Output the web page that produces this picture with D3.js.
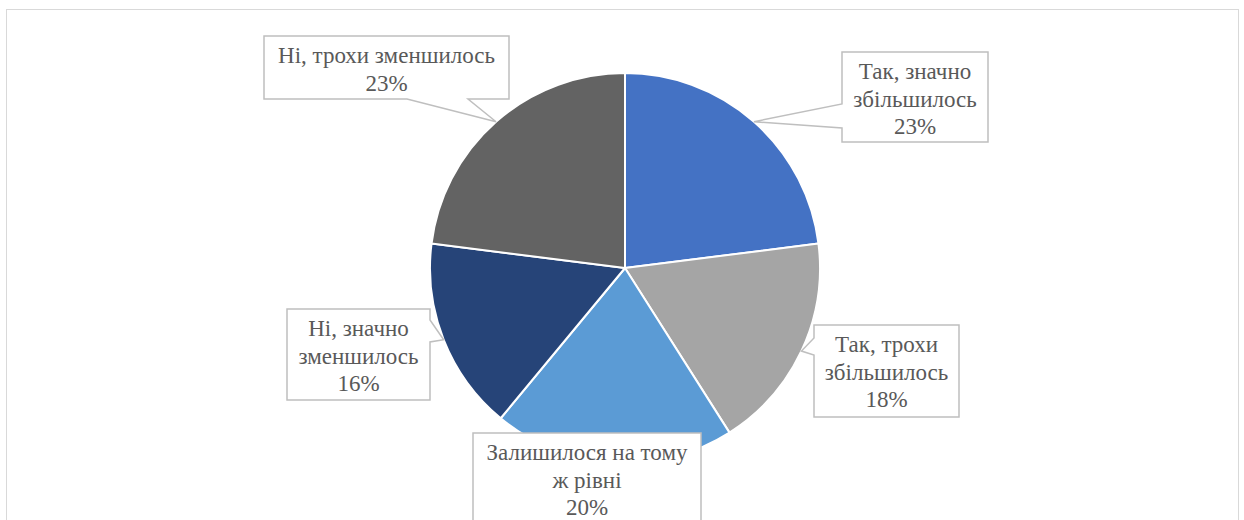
<!DOCTYPE html>
<html>
<head>
<meta charset="utf-8">
<script src="https://cdn.jsdelivr.net/npm/d3@7"></script>
<style>
  html, body { margin: 0; padding: 0; background: #fff; }
  svg { display: block; }
</style>
</head>
<body>
<svg id="chart" width="1244" height="520"></svg>
<script>
// Survey answers, clockwise from 12 o'clock
const categories = [
  ["Так, значно", "збільшилось"],
  ["Так, трохи", "збільшилось"],
  ["Залишилося на тому", "ж рівні"],
  ["Ні, значно", "зменшилось"],
  ["Ні, трохи зменшилось"]
];
const values = [23, 18, 20, 16, 23];
const colors = ["#4472C4", "#A5A5A5", "#5B9BD5", "#264478", "#636363"];

// Callout boxes, placed relative to the pie centre.
// side: edge of the box that carries the pointer; base: pointer base along that edge.
const callouts = [
  { dx: 217,  dy: -216, w: 146, h: 90, side: "left",   base: [52, 76] },
  { dx: 189,  dy: 57,   w: 145, h: 92, side: "left",   base: [13, 30] },
  { dx: -152, dy: 165,  w: 228, h: 92, side: null,     base: null },
  { dx: -338, dy: 41,   w: 143, h: 91, side: "right",  base: [11, 33] },
  { dx: -361, dy: -232, w: 245, h: 63, side: "bottom", base: [143, 204] }
];

const W = 1244, H = 520;
const cx = 625, cy = 268, radius = 195;
const serif = "'Liberation Serif', 'Noto Serif', 'DejaVu Serif', 'Times New Roman', Times, serif";
const svg = d3.select("#chart");

// chart area frame
svg.append("rect")
  .attr("x", 6.5).attr("y", 9.5)
  .attr("width", 1232).attr("height", 530)
  .attr("fill", "#fff")
  .attr("stroke", "#D9D9D9").attr("stroke-width", 1);

const total = d3.sum(values);
const data = values.map((v, i) => ({ value: v, label: categories[i], color: colors[i], co: callouts[i] }));

const pie = d3.pie().value(d => d.value).sort(null);
const arcs = pie(data);
const arc = d3.arc().innerRadius(0).outerRadius(radius);

const g = svg.append("g").attr("transform", `translate(${cx},${cy})`);

g.selectAll("path.slice")
  .data(arcs)
  .enter().append("path")
  .attr("class", "slice")
  .attr("d", arc)
  .attr("fill", d => d.data.color)
  .attr("stroke", "#fff")
  .attr("stroke-width", 2)
  .attr("stroke-linejoin", "round");

// callout path: rectangle with a wedge pointing at the slice edge
function calloutPath(c, tip) {
  const x0 = c.dx, y0 = c.dy, x1 = c.dx + c.w, y1 = c.dy + c.h;
  const p = d3.path();
  p.moveTo(x0, y0);
  p.lineTo(x1, y0);
  if (c.side === "right") {
    p.lineTo(x1, y0 + c.base[0]);
    p.lineTo(tip[0], tip[1]);
    p.lineTo(x1, y0 + c.base[1]);
  }
  p.lineTo(x1, y1);
  if (c.side === "bottom") {
    p.lineTo(x0 + c.base[1], y1);
    p.lineTo(tip[0], tip[1]);
    p.lineTo(x0 + c.base[0], y1);
  }
  p.lineTo(x0, y1);
  if (c.side === "left") {
    p.lineTo(x0, y0 + c.base[1]);
    p.lineTo(tip[0], tip[1]);
    p.lineTo(x0, y0 + c.base[0]);
  }
  p.closePath();
  return p.toString();
}

const labels = g.selectAll("g.callout")
  .data(arcs)
  .enter().append("g")
  .attr("class", "callout");

labels.append("path")
  .attr("d", d => {
    const mid = (d.startAngle + d.endAngle) / 2;
    const tip = [Math.sin(mid) * radius, -Math.cos(mid) * radius];
    return calloutPath(d.data.co, tip);
  })
  .attr("fill", "#fff")
  .attr("stroke", "#BFBFBF")
  .attr("stroke-width", 1.5)
  .attr("stroke-linejoin", "miter");

const fmt = d3.format(".0%");
labels.append("text")
  .style("font-family", serif)
  .style("font-size", "23px")
  .attr("fill", "#595959")
  .attr("text-anchor", "middle")
  .each(function(d) {
    const c = d.data.co;
    const lines = d.data.label.concat([fmt(d.data.value / total)]);
    const t = d3.select(this);
    lines.forEach((ln, i) => {
      t.append("tspan")
        .attr("x", c.dx + c.w / 2)
        .attr("y", c.dy + 27 + i * 27.5)
        .text(ln);
    });
  });
</script>
</body>
</html>
